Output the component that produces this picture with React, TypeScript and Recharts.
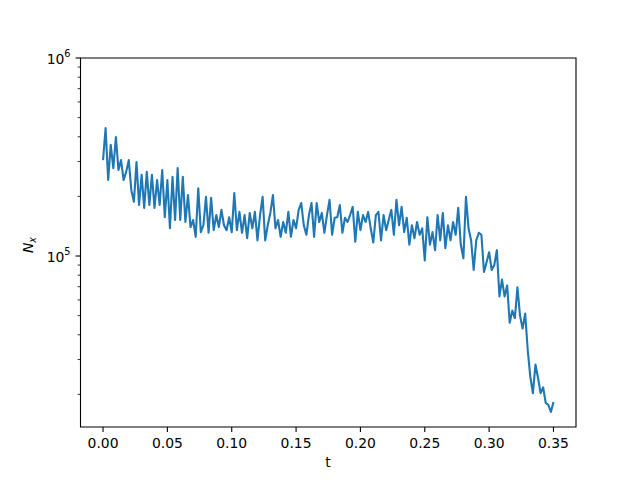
import {
  LineChart,
  Line,
  XAxis,
  YAxis,
  ReferenceArea,
} from "recharts";

// sample times (t)
const tValues = [
  0, 0.002, 0.004, 0.006, 0.008, 0.01, 0.012, 0.014, 0.016, 0.018,
  0.02, 0.022, 0.024, 0.026, 0.028, 0.03, 0.032, 0.034, 0.036, 0.038,
  0.04, 0.042, 0.044, 0.046, 0.048, 0.05, 0.052, 0.054, 0.056, 0.058,
  0.06, 0.062, 0.064, 0.066, 0.068, 0.07, 0.072, 0.074, 0.076, 0.078,
  0.08, 0.082, 0.084, 0.086, 0.088, 0.09, 0.092, 0.094, 0.096, 0.098,
  0.1, 0.102, 0.104, 0.106, 0.108, 0.11, 0.112, 0.114, 0.116, 0.118,
  0.12, 0.122, 0.124, 0.126, 0.128, 0.13, 0.132, 0.134, 0.136, 0.138,
  0.14, 0.142, 0.144, 0.146, 0.148, 0.15, 0.152, 0.154, 0.156, 0.158,
  0.16, 0.162, 0.164, 0.166, 0.168, 0.17, 0.172, 0.174, 0.176, 0.178,
  0.18, 0.182, 0.184, 0.186, 0.188, 0.19, 0.192, 0.194, 0.196, 0.198,
  0.2, 0.202, 0.204, 0.206, 0.208, 0.21, 0.212, 0.214, 0.216, 0.218,
  0.22, 0.222, 0.224, 0.226, 0.228, 0.23, 0.232, 0.234, 0.236, 0.238,
  0.24, 0.242, 0.244, 0.246, 0.248, 0.25, 0.252, 0.254, 0.256, 0.258,
  0.26, 0.262, 0.264, 0.266, 0.268, 0.27, 0.272, 0.274, 0.276, 0.278,
  0.28, 0.282, 0.284, 0.286, 0.288, 0.29, 0.292, 0.294, 0.296, 0.298,
  0.3, 0.302, 0.304, 0.306, 0.308, 0.31, 0.312, 0.314, 0.316, 0.318,
  0.32, 0.322, 0.324, 0.326, 0.328, 0.33, 0.332, 0.334, 0.336, 0.338,
  0.34, 0.342, 0.344, 0.346, 0.348, 0.35,
];

// N_x
const nxValues = [
  305000, 443000, 242000, 364000, 278000, 399000, 272000, 305000, 242000, 266000,
  305000, 215000, 188000, 298000, 181000, 257000, 175000, 266000, 181000, 257000,
  175000, 242000, 181000, 272000, 157000, 242000, 138000, 251000, 152000, 278000,
  152000, 251000, 148500, 203000, 140000, 152000, 125000, 220000, 132000, 143000,
  199000, 131000, 196500, 135000, 161000, 140000, 171000, 143000, 135000, 157000,
  132000, 208000, 135000, 167000, 131000, 161000, 123000, 165000, 138000, 167000,
  120000, 161000, 199000, 120000, 143000, 165000, 203000, 138000, 152000, 125000,
  148500, 131000, 167000, 125000, 152000, 138000, 171000, 185000, 143000, 128000,
  161000, 185000, 125000, 185000, 148500, 165000, 131000, 161000, 192000, 128000,
  156000, 157000, 181000, 131000, 156000, 148500, 161000, 177000, 118000, 167000,
  135000, 161000, 148500, 167000, 138000, 117000, 161000, 167000, 120000, 161000,
  135000, 152000, 171000, 128000, 192000, 143000, 177000, 132000, 156000, 114000,
  143000, 123000, 148500, 128000, 138000, 95000, 157000, 114000, 132000, 107000,
  161000, 120000, 165000, 109500, 143000, 120000, 148500, 128000, 175000, 114000,
  97500, 199000, 138000, 120000, 85000, 120000, 131000, 128000, 83000, 93000,
  104500, 85000, 90000, 107000, 62500, 76000, 62500, 71000, 46000, 53000,
  48600, 69500, 50000, 43000, 51200, 33500, 24500, 20300, 28300, 24200,
  20300, 21700, 18100, 17700, 16300, 18300,
];

const xTicks = [0, 0.05, 0.1, 0.15, 0.2, 0.25, 0.3, 0.35];
const yTicks = [
  20000, 30000, 40000, 50000, 60000, 70000, 80000, 90000, 100000,
  200000, 300000, 400000, 500000, 600000, 700000, 800000, 900000, 1000000,
];

const data = tValues.map((t, i) => ({ t, nx: nxValues[i] }));

const X_MIN = -0.0175;
const X_MAX = 0.3675;
const Y_MIN = 13690;
const Y_MAX = 1000000;

const FONT = "DejaVu Sans";

const LogTick = ({ x, y, payload }: any) => {
  const exp = Math.log10(payload.value);
  const major = Math.abs(exp - Math.round(exp)) < 1e-6;
  return (
    <g>
      <line
        x1={x - (major ? 4.9 : 2.8)}
        x2={x}
        y1={y}
        y2={y}
        stroke="#000"
        strokeWidth={major ? 1.1 : 0.8}
      />
      {major && (
        <text
          x={x - 10}
          y={y + 5.5}
          textAnchor="end"
          fontSize={13.9}
          fill="#000"
          fontFamily={FONT}
        >
          10
          <tspan dy={-6.5} fontSize={9.7}>
            {Math.round(exp)}
          </tspan>
        </text>
      )}
    </g>
  );
};

const XLabel = () => (
  <text x={328} y={466.5} textAnchor="middle" fontSize={13.9} fill="#000" fontFamily={FONT}>
    t
  </text>
);

const YLabel = () => (
  <text
    x={33}
    y={245}
    transform="rotate(-90, 33, 245)"
    textAnchor="middle"
    fontSize={13.9}
    fill="#000"
    fontFamily={FONT}
  >
    <tspan fontStyle="italic">N</tspan>
    <tspan fontStyle="italic" fontSize={9.7} dy={3}>
      x
    </tspan>
  </text>
);

const App = () => {
  return (
    <div style={{ position: "absolute", left: 0, top: 0, background: "#fff" }}>
      <LineChart
        width={640}
        height={480}
        data={data}
        margin={{ top: 58, right: 64, bottom: 0, left: 0 }}
      >
        <XAxis
          dataKey="t"
          type="number"
          domain={[X_MIN, X_MAX]}
          allowDataOverflow
          ticks={xTicks}
          interval={0}
          tickFormatter={(v: number) => v.toFixed(2)}
          height={53}
          tickSize={4.9}
          tickMargin={6}
          axisLine={false}
          tickLine={{ stroke: "#000", strokeWidth: 1.1 }}
          tick={{ fill: "#000", fontSize: 13.9, fontFamily: FONT }}
          label={<XLabel />}
        />
        <YAxis
          type="number"
          scale="log"
          domain={[Y_MIN, Y_MAX]}
          allowDataOverflow
          ticks={yTicks}
          interval={0}
          width={80.5}
          tickSize={0}
          tickMargin={0}
          axisLine={false}
          tickLine={false}
          tick={<LogTick />}
          label={<YLabel />}
        />
        <ReferenceArea
          x1={X_MIN}
          x2={X_MAX}
          y1={Y_MIN}
          y2={Y_MAX}
          fill="none"
          fillOpacity={0}
          stroke="#000"
          strokeWidth={1.1}
          strokeOpacity={1}
          ifOverflow="visible"
        />
        <Line
          dataKey="nx"
          stroke="#1f77b4"
          strokeWidth={2.1}
          dot={false}
          strokeLinejoin="round"
          isAnimationActive={false}
        />
      </LineChart>
    </div>
  );
};

export default App;
